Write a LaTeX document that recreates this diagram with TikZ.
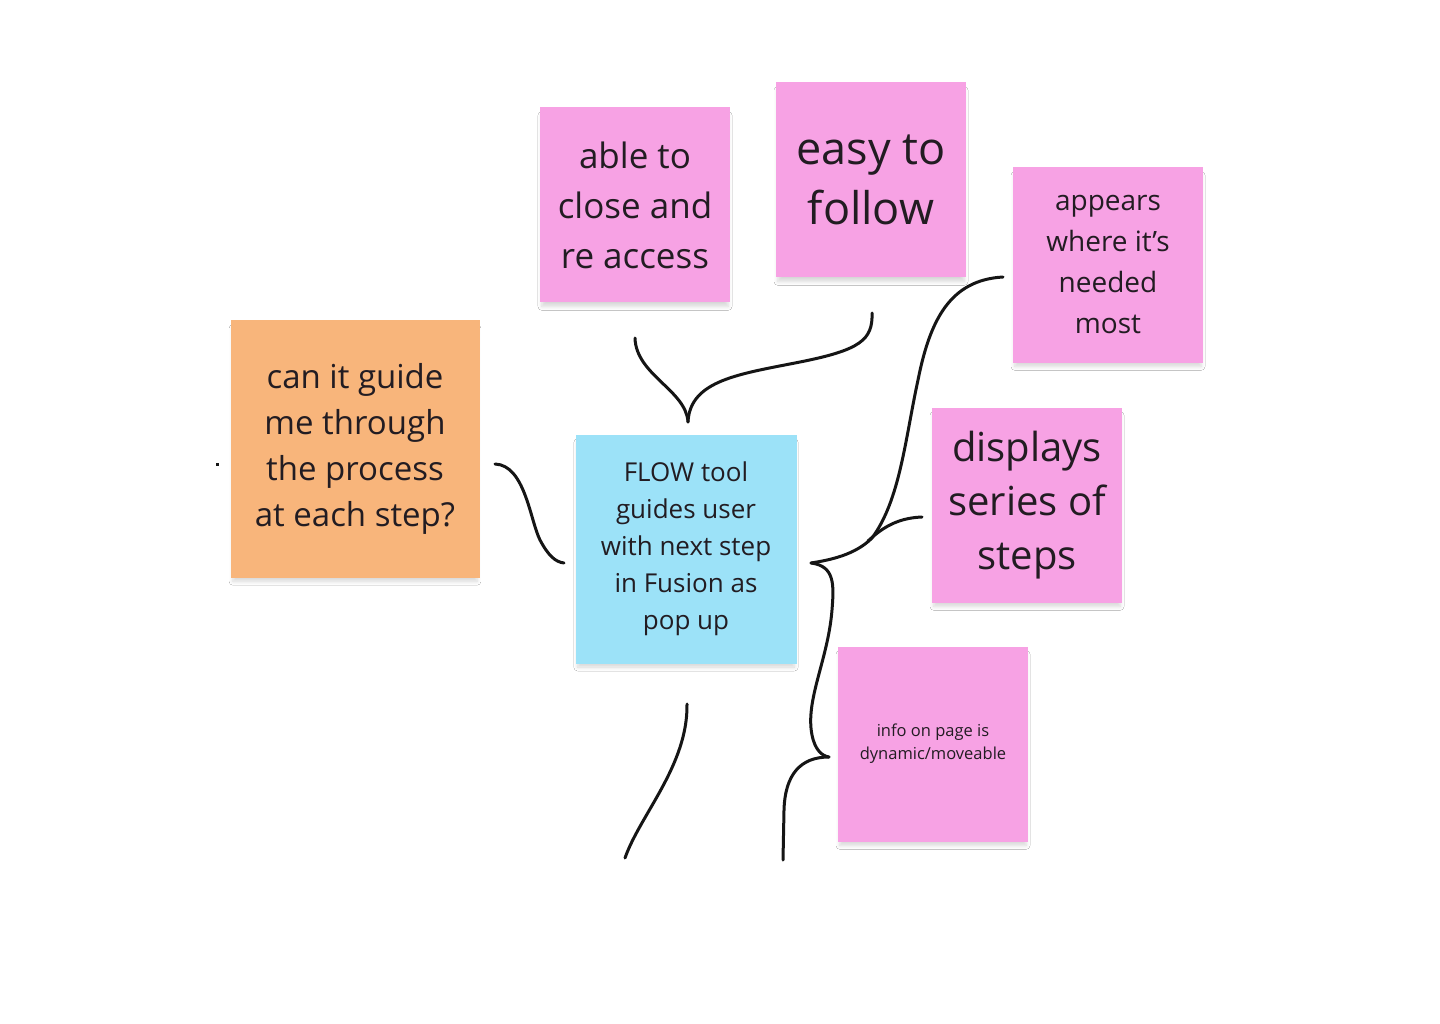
\documentclass[tikz,border=0pt]{standalone}
\usepackage{fontspec}
\setmainfont{Open Sans}
\usetikzlibrary{shadows.blur}
\definecolor{pinkn}{HTML}{F7A2E4}
\definecolor{orangen}{HTML}{F8B57B}
\definecolor{bluen}{HTML}{9CE2F8}
\definecolor{inkc}{HTML}{151515}
\definecolor{txt}{HTML}{221C22}
\begin{document}
\begin{tikzpicture}[x=1pt,y=-1pt,
  sticky/.style={rectangle, inner sep=0pt, align=center, text=txt,
    blur shadow={shadow xshift=0pt, shadow yshift=-6pt, shadow blur radius=4pt, shadow opacity=16, shadow blur steps=6, shadow scale=0.98}},
  pinknote/.style={sticky, fill=pinkn, minimum width=190pt, minimum height=195pt},
  link/.style={draw=inkc, line width=3pt, line cap=round}]
\useasboundingbox (0,0) rectangle (1440,1024);
\fill[white] (0,0) rectangle (1440,1024);

% notes
\node[pinknote, font=\fontsize{35}{50}\selectfont] (able) at (635,205) {able to\\close and\\re access};
\node[pinknote, font=\fontsize{45}{60}\selectfont] (easy) at (871,180) {easy to\\follow};
\node[pinknote, font=\fontsize{28}{41}\selectfont] (appears) at (1108,265) {appears\\where it’s\\needed\\most};
\node[pinknote, font=\fontsize{40}{54}\selectfont] (displays) at (1027,505) {displays\\series of\\steps};
\node[pinknote, font=\fontsize{16.5}{23}\selectfont] (info) at (933,744) {info on page is\\dynamic/moveable};
\node[sticky, fill=orangen, minimum width=249pt, minimum height=258pt, font=\fontsize{33}{46}\selectfont] (guide) at (355,449) {can it guide\\me through\\the process\\at each step?};
\node[sticky, fill=bluen, minimum width=221pt, minimum height=229pt, font=\fontsize{26}{37}\selectfont] (flow) at (686,549) {FLOW tool\\guides user\\with next step\\in Fusion as\\pop up};

% connector end points
\coordinate (t1) at (635,338);
\coordinate (tp) at (688,422);
\coordinate (t2) at (872,313);
\coordinate (r1) at (1003,277);
\coordinate (rp) at (811,563);
\coordinate (r2) at (922,517);
\coordinate (rm) at (868,541);
\coordinate (lp) at (829,757);
\coordinate (r3) at (783,860);
\coordinate (b1) at (687,704);
\coordinate (b2) at (625,858);
\coordinate (l1) at (495,464);
\coordinate (l2) at (564,563);

% top brace
\draw[link] (t1) .. controls (636,375) and (686,390) .. (tp);
\draw[link] (tp) .. controls (690,380) and (740,374) .. (800,362) .. controls (860,350) and (873,340) .. (t2);
% right brace
\draw[link] (r1) .. controls (950,280) and (930,320) .. (918,380) .. controls (905,440) and (900,500) .. (872,538) .. controls (855,555) and (830,560) .. (rp);
\draw[link] (r2) .. controls (895,518) and (880,530) .. (rm);
\draw[link] (rp) .. controls (835,566) and (834,585) .. (832,610) .. controls (828,660) and (805,700) .. (812,735) .. controls (815,750) and (822,756) .. (lp);
\draw[link] (lp) .. controls (800,757) and (785,775) .. (784,810) -- (r3);
% bottom left
\draw[link] (b1) .. controls (688,765) and (640,815) .. (b2);
% left S
\draw[link] (l1) .. controls (525,465) and (530,520) .. (540,540) .. controls (548,555) and (555,562) .. (l2);
% stray dot
\fill[inkc] (216,463) rectangle (219,466);
\end{tikzpicture}
\end{document}
